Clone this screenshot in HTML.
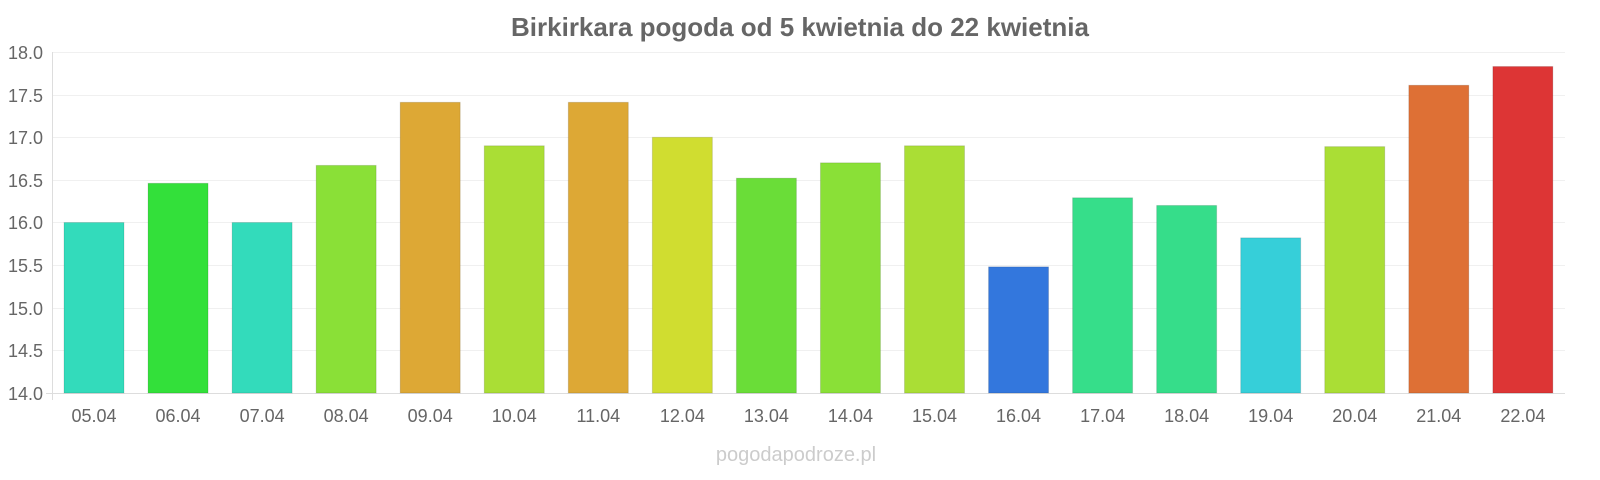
<!DOCTYPE html>
<html><head><meta charset="utf-8"><style>
html,body{margin:0;padding:0;background:#fff;}
svg{display:block;font-family:"Liberation Sans",sans-serif;}
</style></head><body>
<svg width="1600" height="480" viewBox="0 0 1600 480" xmlns="http://www.w3.org/2000/svg">
<text x="800" y="36" text-anchor="middle" font-size="26" font-weight="bold" fill="#666">Birkirkara pogoda od 5 kwietnia do 22 kwietnia</text>
<g stroke="#f0f0f0" stroke-width="1">
<line x1="52" y1="52.5" x2="1565" y2="52.5"/>
<line x1="52" y1="95.5" x2="1565" y2="95.5"/>
<line x1="52" y1="137.5" x2="1565" y2="137.5"/>
<line x1="52" y1="180.5" x2="1565" y2="180.5"/>
<line x1="52" y1="222.5" x2="1565" y2="222.5"/>
<line x1="52" y1="265.5" x2="1565" y2="265.5"/>
<line x1="52" y1="308.5" x2="1565" y2="308.5"/>
<line x1="52" y1="350.5" x2="1565" y2="350.5"/>
</g>
<line x1="52.5" y1="52" x2="52.5" y2="400" stroke="#ddd"/>
<line x1="46" y1="393.5" x2="1565" y2="393.5" stroke="#ddd"/>
<g font-size="18" fill="#666" text-anchor="end">
<text x="43" y="59">18.0</text>
<text x="43" y="102">17.5</text>
<text x="43" y="144">17.0</text>
<text x="43" y="187">16.5</text>
<text x="43" y="229">16.0</text>
<text x="43" y="272">15.5</text>
<text x="43" y="315">15.0</text>
<text x="43" y="357">14.5</text>
<text x="43" y="400">14.0</text>
</g>
<g id="bars"></g>
<g id="labels" font-size="18" fill="#666" text-anchor="middle"></g>
<text x="796" y="461" text-anchor="middle" font-size="20" fill="#ccc">pogodapodroze.pl</text>
<script>
var v=[16.0,16.46,16.0,16.67,17.41,16.9,17.41,17.0,16.52,16.7,16.9,15.48,16.29,16.2,15.82,16.89,17.61,17.83];
var c=["#33dbbb","#33e03a","#33dbbb","#8ae037","#dda835","#aade35","#dda835","#d0dd30","#6add38","#8ae037","#aade35","#3377dd","#36de8a","#36dd8a","#36cfd9","#aade35","#de7035","#dd3535"];
var d=["05.04","06.04","07.04","08.04","09.04","10.04","11.04","12.04","13.04","14.04","15.04","16.04","17.04","18.04","19.04","20.04","21.04","22.04"];
var ns="http://www.w3.org/2000/svg",b=document.getElementById("bars"),l=document.getElementById("labels");
for(var i=0;i<18;i++){var x=64+i*84.05,y=393-(v[i]-14)*85.25;
var r=document.createElementNS(ns,"rect");r.setAttribute("x",x);r.setAttribute("y",y);r.setAttribute("width",60);r.setAttribute("height",393-y);r.setAttribute("fill",c[i]);r.setAttribute("stroke","rgba(0,0,0,0.12)");b.appendChild(r);
var t=document.createElementNS(ns,"text");t.setAttribute("x",x+30);t.setAttribute("y",422);t.textContent=d[i];l.appendChild(t);}
</script>
</svg>
</body></html>
